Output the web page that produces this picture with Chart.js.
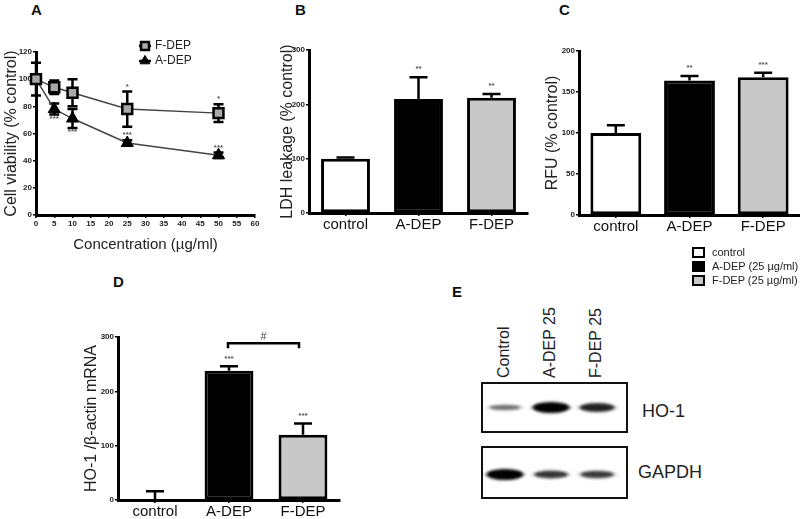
<!DOCTYPE html>
<html>
<head>
<meta charset="utf-8">
<script src="https://cdn.jsdelivr.net/npm/chart.js@4/dist/chart.umd.min.js"></script>
<style>
body{margin:0;width:800px;height:519px;position:relative;background:#fff;overflow:hidden;font-family:"Liberation Sans",Arial,sans-serif;color:#222}
canvas,.txt{position:absolute}
.letter{position:absolute;font-weight:bold;font-size:15px;color:#111}
.lane{position:absolute;font-size:16px;transform:rotate(-90deg);transform-origin:left top;white-space:nowrap}
.blotname{position:absolute;font-size:18px}
.leg{position:absolute;font-size:11px;white-space:nowrap}
.leg span{display:inline-block;width:9px;height:7px;border:2px solid #000;vertical-align:-2px;margin-right:7px}
</style>
</head>
<body>

<div class="letter" style="left:31px;top:1px">A</div>
<div class="letter" style="left:295px;top:1px">B</div>
<div class="letter" style="left:559px;top:1px">C</div>
<div class="letter" style="left:113px;top:273px">D</div>
<div class="letter" style="left:452px;top:283px">E</div>

<canvas id="cA" width="270" height="262" style="left:0;top:0"></canvas>
<canvas id="cB" width="270" height="262" style="left:260px;top:0"></canvas>
<canvas id="cC" width="280" height="262" style="left:520px;top:0"></canvas>
<canvas id="cD" width="345" height="259" style="left:0;top:260px"></canvas>
<canvas id="cHO" width="147" height="51" style="left:481px;top:382px"></canvas>
<canvas id="cGA" width="147" height="53" style="left:481px;top:446px"></canvas>

<div id="legC"></div>
<div id="lanes"></div>
<div class="blotname" style="left:642px;top:401px">HO-1</div>
<div class="blotname" style="left:638px;top:462px">GAPDH</div>

<script>
// ==========================================
// DATA
// ==========================================

// A - cell viability
const concX = [0, 5, 10, 25, 50];
const fdepMean = [100, 94, 90, 78, 75];
const fdepErr = [12, 5, 10, 13, 6.5];
const fdepSig = ["", "", "", "*", "*"];
const adepMean = [100, 78, 71, 53, 44];
const adepErr = [0, 4, 7, 2, 2];
const adepSig = ["", "***", "***", "***", "***"];
const adepSigSide = ["", "below", "below", "above", "above"];

// B, C, D - bar panels
const groups = ["control", "A-DEP", "F-DEP"];
const ldhMean = [100, 210, 212];
const ldhErr = [2, 40, 7];
const ldhSig = ["", "**", "**"];

const rfuMean = [100, 164, 168];
const rfuErr = [9.5, 5.5, 5.5];
const rfuSig = ["", "**", "***"];

const ho1Mean = [0, 238, 120];
const ho1Err = [16, 8, 21];
const ho1Sig = ["", "***", "***"];
const ho1Compare = ["A-DEP", "F-DEP", "#"];

const legendLabels = ["control", "A-DEP (25 µg/ml)", "F-DEP (25 µg/ml)"];

// E - western blot (relative band intensity)
const lanes = ["Control", "A-DEP 25", "F-DEP 25"];
const ho1Band = [0.3, 1.0, 0.75];
const gapdhBand = [1.0, 0.62, 0.58];

const barFill = ["#ffffff", "#000000", "#c8c8c8"];
const tickFont = {family: "Liberation Sans", size: 8, weight: "bold"};

// ==========================================
// PLUGINS
// ==========================================

const errorBars = {
    id: "errorBars",
    beforeDatasetsDraw(chart) {
        const ctx = chart.ctx;
        const ys = chart.scales.y;
        chart.data.datasets.forEach((ds, i) => {
            if (!ds.err) return;
            const meta = chart.getDatasetMeta(i);
            meta.data.forEach((el, j) => {
                const e = ds.err[j];
                if (!e) return;
                const raw = ds.data[j];
                const v = typeof raw === "object" ? raw.y : raw;
                const top = ys.getPixelForValue(v + e);
                const bot = ds.errBoth ? ys.getPixelForValue(v - e) : ys.getPixelForValue(v);
                const cap = ds.capW || 18;
                ctx.save();
                ctx.strokeStyle = "#000";
                ctx.lineWidth = 2.5;
                ctx.beginPath();
                ctx.moveTo(el.x, top); ctx.lineTo(el.x, bot);
                ctx.moveTo(el.x - cap / 2, top); ctx.lineTo(el.x + cap / 2, top);
                if (ds.errBoth) { ctx.moveTo(el.x - cap / 2, bot); ctx.lineTo(el.x + cap / 2, bot); }
                ctx.stroke();
                ctx.restore();
            });
        });
    }
};

const sigStars = {
    id: "sigStars",
    afterDatasetsDraw(chart) {
        const ctx = chart.ctx;
        const ys = chart.scales.y;
        chart.data.datasets.forEach((ds, i) => {
            if (!ds.sig) return;
            const meta = chart.getDatasetMeta(i);
            meta.data.forEach((el, j) => {
                const s = ds.sig[j];
                if (!s) return;
                const raw = ds.data[j];
                const v = typeof raw === "object" ? raw.y : raw;
                const e = ds.err ? ds.err[j] : 0;
                let y;
                if (ds.sigSide && ds.sigSide[j] === "below") y = ys.getPixelForValue(v - e) + 4;
                else y = ys.getPixelForValue(v + e) - (ds.errBoth ? 5 : 8);
                ctx.save();
                ctx.fillStyle = "#555";
                ctx.font = "bold 8px 'Liberation Sans'";
                ctx.textAlign = "center";
                ctx.textBaseline = "middle";
                ctx.fillText(s, el.x, y);
                ctx.restore();
            });
        });
    }
};

function fixedAxes(left, bottomH) {
    return {
        y: s => { s.width = left; },
        x: s => { s.height = bottomH; }
    };
}

function axisStyle() {
    return {
        grid: {display: true, drawOnChartArea: false, drawTicks: true, tickLength: 3, color: "#000", lineWidth: 1.5, offset: false},
        border: {display: true, color: "#000", width: 3}
    };
}

// ==========================================
// A - LINE CHART
// ==========================================

const legendA = {
    id: "legendA",
    afterDraw(chart) {
        const ctx = chart.ctx;
        chart.data.datasets.forEach((ds, i) => {
            const x = 145, y = 46 + i * 15;
            ctx.save();
            ctx.strokeStyle = "#000";
            ctx.lineWidth = 2.5;
            ctx.beginPath(); ctx.moveTo(x - 6, y); ctx.lineTo(x + 6, y); ctx.stroke();
            ctx.fillStyle = ds.pointBackgroundColor;
            ctx.strokeStyle = ds.pointBorderColor;
            ctx.lineWidth = ds.pointBorderWidth;
            Chart.helpers.drawPoint(ctx, {pointStyle: ds.pointStyle, radius: ds.pointRadius * 0.8, borderWidth: ds.pointBorderWidth}, x, y);
            ctx.fillStyle = "#222";
            ctx.font = "12px 'Liberation Sans'";
            ctx.textBaseline = "middle";
            ctx.fillText(ds.label, x + 10, y);
            ctx.restore();
        });
    }
};

const fa = fixedAxes(36, 47);
new Chart(document.getElementById("cA"), {
    type: "line",
    data: {
        datasets: [{
            label: "F-DEP",
            data: concX.map((x, i) => ({x: x, y: fdepMean[i]})),
            err: fdepErr, errBoth: true, capW: 10, sig: fdepSig,
            borderColor: "#444", borderWidth: 1.5,
            pointStyle: "rect", pointRadius: 7,
            pointBackgroundColor: "#aaaaaa", pointBorderColor: "#000", pointBorderWidth: 2.5,
            clip: false
        }, {
            label: "A-DEP",
            data: concX.map((x, i) => ({x: x, y: adepMean[i]})),
            err: adepErr, errBoth: true, capW: 10, sig: adepSig, sigSide: adepSigSide,
            borderColor: "#444", borderWidth: 1.5,
            pointStyle: "triangle", pointRadius: 7,
            pointBackgroundColor: "#000", pointBorderColor: "#000", pointBorderWidth: 1,
            clip: false
        }]
    },
    options: {
        responsive: false, animation: false,
        layout: {padding: {top: 52, right: 15, left: 0, bottom: 0}},
        plugins: {legend: {display: false}, tooltip: {enabled: false}},
        scales: {
            x: Object.assign(axisStyle(), {
                type: "linear", min: 0, max: 60,
                afterFit: fa.x,
                ticks: {stepSize: 5, color: "#222", font: tickFont, padding: 1, maxRotation: 0},
                title: {display: true, text: "Concentration (µg/ml)", color: "#222",
                        font: {family: "Liberation Sans", size: 15}, padding: {bottom: 8, top: 0}}
            }),
            y: Object.assign(axisStyle(), {
                min: 0, max: 120,
                afterFit: fa.y,
                ticks: {stepSize: 20, color: "#222", font: tickFont, padding: 1},
                title: {display: true, text: "Cell viability (% control)", color: "#222",
                        font: {family: "Liberation Sans", size: 16}, padding: {top: 2, bottom: 0}}
            })
        }
    },
    plugins: [errorBars, sigStars, legendA]
});

// ==========================================
// BAR CHARTS B, C, D
// ==========================================

function barChart(id, opt) {
    const f = fixedAxes(opt.left, opt.bottomH);
    return new Chart(document.getElementById(id), {
        type: "bar",
        data: {
            labels: groups,
            datasets: [{
                data: opt.mean, err: opt.err, sig: opt.sig, capW: 18,
                backgroundColor: barFill, borderColor: "#000", borderWidth: 3,
                borderSkipped: false,
                barPercentage: opt.barPct, categoryPercentage: 1
            }]
        },
        options: {
            responsive: false, animation: false,
            layout: {padding: {top: opt.top, right: opt.right, left: 0, bottom: 0}},
            plugins: {legend: {display: false}, tooltip: {enabled: false}},
            scales: {
                x: Object.assign(axisStyle(), {
                    afterFit: f.x,
                    ticks: {color: "#111", font: {family: "Liberation Sans", size: 15}, padding: 0, maxRotation: 0}
                }),
                y: Object.assign(axisStyle(), {
                    min: 0, max: opt.max,
                    afterFit: f.y,
                    ticks: {stepSize: opt.step, color: "#222", font: tickFont, padding: 1},
                    title: {display: true, text: opt.title, color: "#222",
                            font: {family: "Liberation Sans", size: 16}, padding: {top: opt.titlePad, bottom: 0}}
                })
            }
        },
        plugins: [errorBars, sigStars].concat(opt.plugins || [])
    });
}

barChart("cB", {mean: ldhMean, err: ldhErr, sig: ldhSig, max: 300, step: 100,
    title: "LDH leakage (% control)", left: 49, bottomH: 49, top: 50, right: 2, barPct: 0.67, titlePad: 18});

barChart("cC", {mean: rfuMean, err: rfuErr, sig: rfuSig, max: 200, step: 50,
    title: "RFU (% control)", left: 59, bottomH: 47, top: 51, right: 0, barPct: 0.69, titlePad: 23});

const bracketD = {
    id: "bracketD",
    afterDatasetsDraw(chart) {
        const ctx = chart.ctx;
        const xs = chart.scales.x, ys = chart.scales.y;
        const a = groups.indexOf(ho1Compare[0]), b = groups.indexOf(ho1Compare[1]);
        const top = Math.min(ys.getPixelForValue(ho1Mean[a] + ho1Err[a]), ys.getPixelForValue(ho1Mean[b] + ho1Err[b])) - 23;
        const x1 = xs.getPixelForValue(a) - 1, x2 = xs.getPixelForValue(b) - 4;
        ctx.save();
        ctx.strokeStyle = "#000";
        ctx.lineWidth = 2.5;
        ctx.beginPath();
        ctx.moveTo(x1, top + 5); ctx.lineTo(x1, top); ctx.lineTo(x2, top); ctx.lineTo(x2, top + 5);
        ctx.stroke();
        ctx.fillStyle = "#333";
        ctx.font = "10px 'Liberation Sans'";
        ctx.textAlign = "center";
        ctx.textBaseline = "middle";
        ctx.fillText(ho1Compare[2], (x1 + x2) / 2, top - 6);
        ctx.restore();
    }
};

barChart("cD", {mean: ho1Mean, err: ho1Err, sig: ho1Sig, max: 300, step: 100,
    title: "HO-1 /β-actin mRNA", left: 118, bottomH: 19, top: 77, right: 5, barPct: 0.66, titlePad: 82,
    plugins: [bracketD]});

// legend of C
const legC = document.getElementById("legC");
legendLabels.forEach((t, i) => {
    const d = document.createElement("div");
    d.className = "leg";
    d.style.left = "692px";
    d.style.top = (246 + i * 14) + "px";
    d.innerHTML = '<span style="background:' + barFill[i] + '"></span>' + t;
    legC.appendChild(d);
});

// ==========================================
// E - WESTERN BLOT
// ==========================================

const laneX = [505, 551, 597];
const laneBox = document.getElementById("lanes");
lanes.forEach((t, i) => {
    const d = document.createElement("div");
    d.className = "lane";
    d.textContent = t;
    d.style.left = (laneX[i] - 10) + "px";
    d.style.top = "378px";
    laneBox.appendChild(d);
});

const blotBands = {
    id: "blotBands",
    afterDatasetsDraw(chart) {
        const ctx = chart.ctx;
        const area = chart.chartArea;
        const meta = chart.getDatasetMeta(0);
        const yc = (area.top + area.bottom) / 2 + chart.options.bandShift;
        meta.data.forEach((el, j) => {
            const I = chart.data.datasets[0].data[j].y;
            ctx.save();
            ctx.filter = "blur(1.6px)";
            ctx.fillStyle = "rgba(0,0,0," + (0.25 + 0.75 * I) + ")";
            ctx.beginPath();
            ctx.ellipse(el.x, yc, 14 + 4 * I, 1.5 + 4 * I, 0, 0, Math.PI * 2);
            ctx.fill();
            ctx.fillStyle = "rgba(0,0,0," + (0.15 + 0.3 * I) + ")";
            ctx.beginPath();
            ctx.ellipse(el.x, yc, 19 + 2 * I, 1 + 2 * I, 0, 0, Math.PI * 2);
            ctx.fill();
            ctx.restore();
        });
        ctx.save();
        ctx.strokeStyle = "#111";
        ctx.lineWidth = 2;
        ctx.strokeRect(area.left + 1, area.top + 1, area.right - area.left - 2, area.bottom - area.top - 2);
        ctx.restore();
    }
};

function blot(id, bands, shift) {
    return new Chart(document.getElementById(id), {
        type: "scatter",
        data: {datasets: [{data: bands.map((v, i) => ({x: i, y: v})), pointRadius: 0}]},
        options: {
            responsive: false, animation: false, bandShift: shift,
            layout: {padding: 0},
            plugins: {legend: {display: false}, tooltip: {enabled: false}},
            scales: {
                x: {type: "linear", min: -0.52, max: 2.67, display: false},
                y: {min: 0, max: 1, display: false}
            }
        },
        plugins: [blotBands]
    });
}

blot("cHO", ho1Band, 0);
blot("cGA", gapdhBand, 2);
</script>
</body>
</html>
